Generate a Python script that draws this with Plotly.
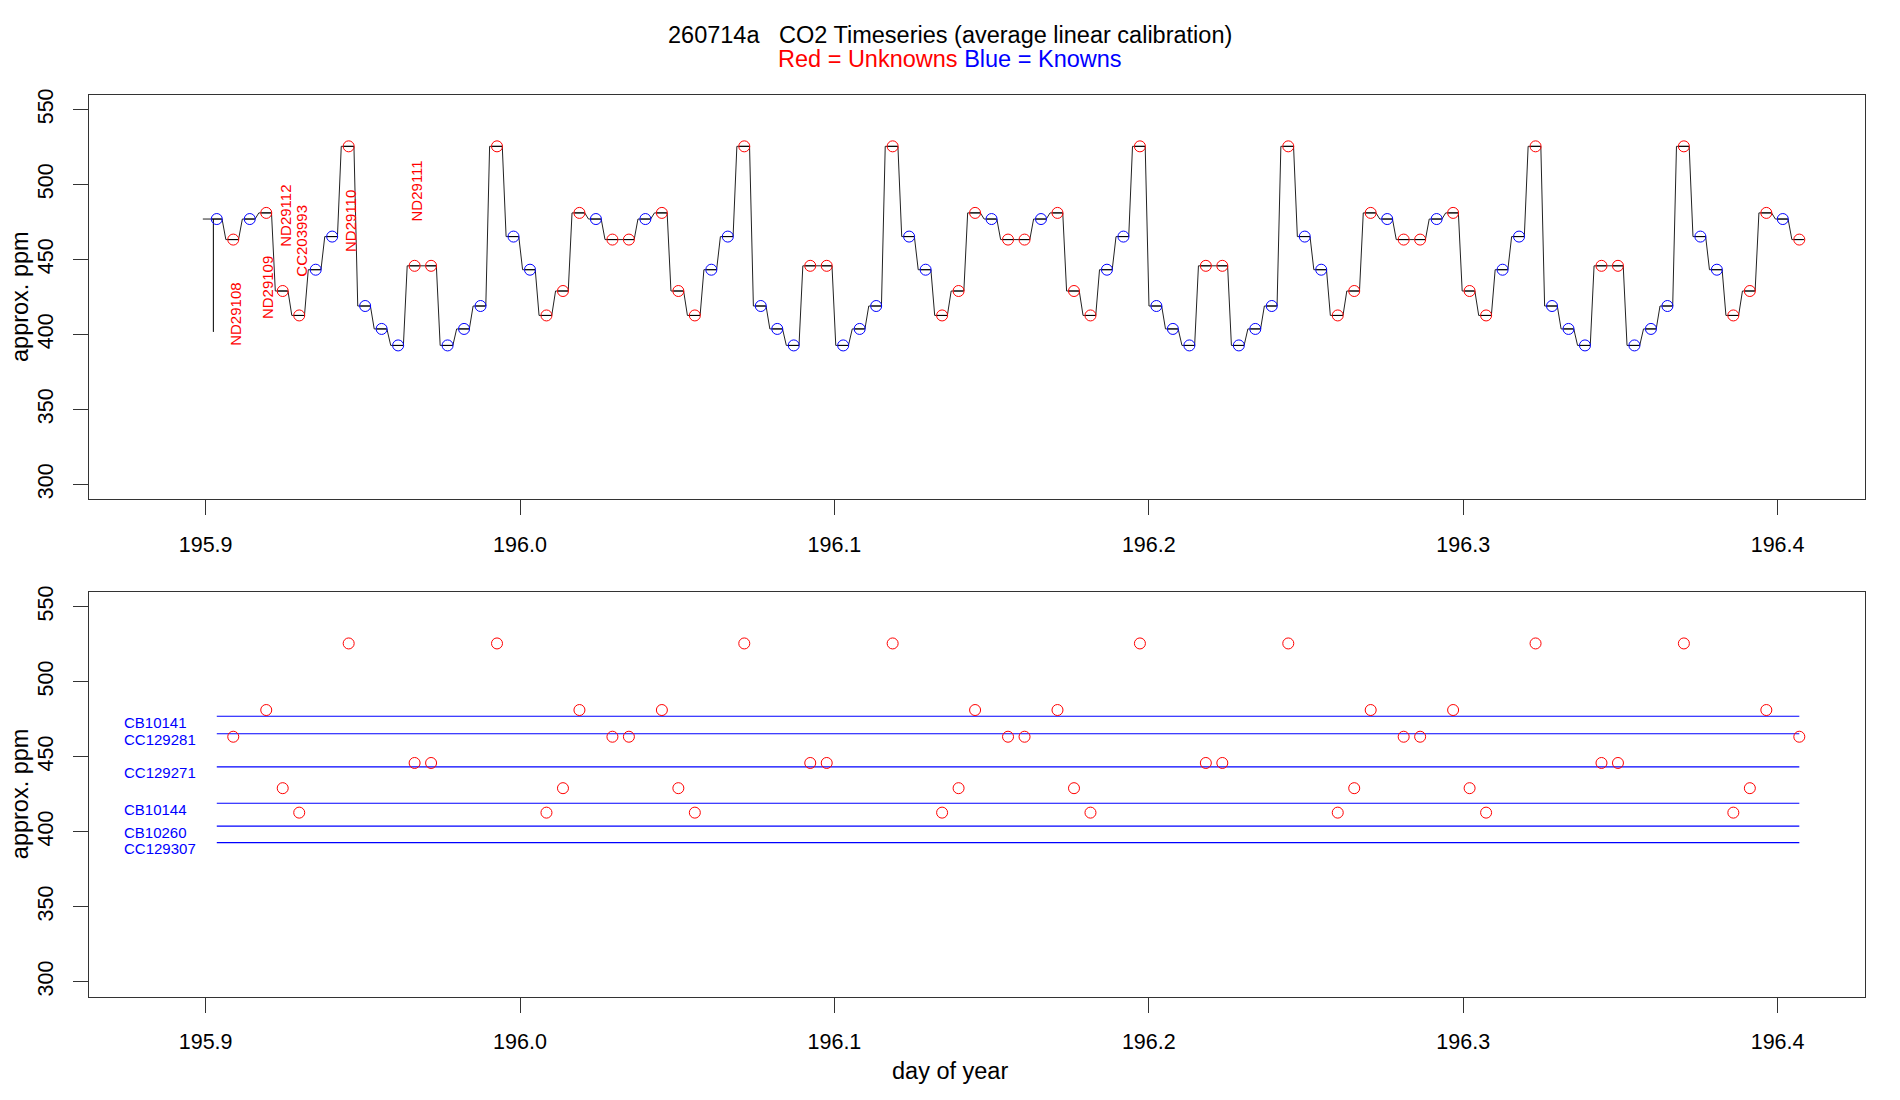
import plotly.graph_objects as go

# ---------------- data ----------------
known_names = ["CB10141", "CC129281", "CC129271", "CB10144", "CB10260", "CC129307"]
known_values = [477.0, 465.3, 443.2, 419.0, 403.7, 392.7]

unknown_names = ["ND29108", "ND29109", "ND29112", "CC203993", "ND29110", "ND29111"]
unknown_values = [463.3, 481.1, 429.0, 412.7, 525.5, 445.8]

sample_times = [
    195.90355, 195.90879, 195.91404, 195.91928, 195.92452, 195.92977, 195.93501, 195.94025,
    195.94550, 195.95074, 195.95598, 195.96123, 195.96647, 195.97171, 195.97696, 195.98220,
    195.98744, 195.99268, 195.99793, 196.00317, 196.00841, 196.01366, 196.01890, 196.02414,
    196.02939, 196.03463, 196.03987, 196.04512, 196.05036, 196.05560, 196.06085, 196.06609,
    196.07133, 196.07658, 196.08182, 196.08706, 196.09231, 196.09755, 196.10279, 196.10803,
    196.11328, 196.11852, 196.12376, 196.12901, 196.13425, 196.13949, 196.14474, 196.14998,
    196.15522, 196.16047, 196.16571, 196.17095, 196.17620, 196.18144, 196.18668, 196.19193,
    196.19717, 196.20241, 196.20766, 196.21290, 196.21814, 196.22338, 196.22863, 196.23387,
    196.23911, 196.24436, 196.24960, 196.25484, 196.26009, 196.26533, 196.27057, 196.27582,
    196.28106, 196.28630, 196.29155, 196.29679, 196.30203, 196.30728, 196.31252, 196.31776,
    196.32301, 196.32825, 196.33349, 196.33873, 196.34398, 196.34922, 196.35446, 196.35971,
    196.36495, 196.37019, 196.37544, 196.38068, 196.38592, 196.39117, 196.39641, 196.40165,
    196.40690,
]

sample_order = [
    "CB10141", "ND29108",
    "CB10141", "ND29109", "ND29112", "CC203993", "CC129271", "CC129281", "ND29110", "CB10144",
    "CB10260", "CC129307", "ND29111", "ND29111", "CC129307", "CB10260", "CB10144", "ND29110",
    "CC129281", "CC129271", "CC203993", "ND29112", "ND29109", "CB10141", "ND29108", "ND29108",
    "CB10141", "ND29109", "ND29112", "CC203993", "CC129271", "CC129281", "ND29110", "CB10144",
    "CB10260", "CC129307", "ND29111", "ND29111", "CC129307", "CB10260", "CB10144", "ND29110",
    "CC129281", "CC129271", "CC203993", "ND29112", "ND29109", "CB10141", "ND29108", "ND29108",
    "CB10141", "ND29109", "ND29112", "CC203993", "CC129271", "CC129281", "ND29110", "CB10144",
    "CB10260", "CC129307", "ND29111", "ND29111", "CC129307", "CB10260", "CB10144", "ND29110",
    "CC129281", "CC129271", "CC203993", "ND29112", "ND29109", "CB10141", "ND29108", "ND29108",
    "CB10141", "ND29109", "ND29112", "CC203993", "CC129271", "CC129281", "ND29110", "CB10144",
    "CB10260", "CC129307", "ND29111", "ND29111", "CC129307", "CB10260", "CB10144", "ND29110",
    "CC129281", "CC129271", "CC203993", "ND29112", "ND29109", "CB10141", "ND29108",
]

# raw series start and initial glitch
line_start_time = 195.89911
spike_time = 195.90248
spike_value = 401.8

x_ticks = [195.9, 196.0, 196.1, 196.2, 196.3, 196.4]
y_ticks = [300, 350, 400, 450, 500, 550]

# ---------------- derived ----------------
value_of = dict(zip(known_names, known_values))
value_of.update(zip(unknown_names, unknown_values))
vals = [value_of[n] for n in sample_order]
is_known = [n in known_names for n in sample_order]
n = len(sample_times)
dt = sample_times[1] - sample_times[0]

# step-like timeseries line
lx = [line_start_time, spike_time, spike_time, spike_time]
ly = [vals[0], vals[0], spike_value, vals[0]]
for i, (t, v) in enumerate(zip(sample_times, vals)):
    if i > 0:
        lx.append(t - 0.45 * dt)
        ly.append(v)
    lx.append(t + (0.32 if i < n - 1 else 0.2) * dt)
    ly.append(v)

# mean bars through each marker
bx, by = [], []
for t, v in zip(sample_times, vals):
    bx += [t - 0.3 * dt, t + 0.3 * dt, None]
    by += [v, v, None]

kx = [t for t, k in zip(sample_times, is_known) if k]
ky = [v for v, k in zip(vals, is_known) if k]
ux = [t for t, k in zip(sample_times, is_known) if not k]
uy = [v for v, k in zip(vals, is_known) if not k]

FONT = "Liberation Sans, Arial, Helvetica, sans-serif"
RED = "#FF0000"
BLUE = "#0000FF"

fig = go.Figure()

fig.add_trace(go.Scatter(x=lx, y=ly, mode="lines", line=dict(color="#222222", width=1),
                         xaxis="x", yaxis="y", hoverinfo="skip", showlegend=False))
fig.add_trace(go.Scatter(x=bx, y=by, mode="lines", line=dict(color="#000000", width=1),
                         xaxis="x", yaxis="y", hoverinfo="skip", showlegend=False))
fig.add_trace(go.Scatter(x=kx, y=ky, mode="markers",
                         marker=dict(symbol="circle-open", size=11, color=BLUE, line=dict(width=1, color=BLUE)),
                         xaxis="x", yaxis="y", showlegend=False))
fig.add_trace(go.Scatter(x=ux, y=uy, mode="markers",
                         marker=dict(symbol="circle-open", size=11, color=RED, line=dict(width=1, color=RED)),
                         xaxis="x", yaxis="y", showlegend=False))

# bottom panel: known reference lines
hx, hy = [], []
for v in known_values:
    hx += [sample_times[0], sample_times[-1], None]
    hy += [v, v, None]
fig.add_trace(go.Scatter(x=hx, y=hy, mode="lines", line=dict(color=BLUE, width=1.1),
                         xaxis="x2", yaxis="y2", hoverinfo="skip", showlegend=False))
fig.add_trace(go.Scatter(x=ux, y=uy, mode="markers",
                         marker=dict(symbol="circle-open", size=11, color=RED, line=dict(width=1, color=RED)),
                         xaxis="x2", yaxis="y2", showlegend=False))

annotations = []
# unknown labels in top panel at first occurrence
for name, v in zip(unknown_names, unknown_values):
    t_first = sample_times[sample_order.index(name)]
    ylab = v - 50 if v > 455 else v + 50
    annotations.append(dict(x=t_first, y=ylab, xref="x", yref="y", text=name, textangle=-90,
                            showarrow=False, xshift=2, font=dict(family=FONT, size=15, color=RED)))
# known labels in bottom panel
for name, v in zip(known_names, known_values):
    annotations.append(dict(x=195.8734, y=v, xref="x2", yref="y2", text=name, xanchor="left",
                            showarrow=False, yshift=-6, font=dict(family=FONT, size=15, color=BLUE)))

H = 1100.0
annotations += [
    dict(x=0.5, y=1 - 29 / H, xref="paper", yref="paper", xanchor="center", yanchor="middle",
         showarrow=False,
         text="260714a\u00a0\u00a0\u00a0CO2 Timeseries (average linear calibration)",
         font=dict(family=FONT, size=23.5, color="black")),
    dict(x=0.5, y=1 - 53 / H, xref="paper", yref="paper", xanchor="center", yanchor="middle",
         showarrow=False,
         text='<span style="color:#FF0000">Red = Unknowns</span> <span style="color:#0000FF">Blue = Knowns</span>',
         font=dict(family=FONT, size=23.5)),
    dict(x=20 / 1900, y=1 - 292.6 / H, xref="paper", yref="paper", xanchor="center", yanchor="middle",
         textangle=-90, showarrow=False,
         text="approx. ppm", font=dict(family=FONT, size=23.5, color="black")),
    dict(x=20 / 1900, y=1 - 792.5 / H, xref="paper", yref="paper", xanchor="center", yanchor="middle",
         textangle=-90, showarrow=False,
         text="approx. ppm", font=dict(family=FONT, size=23.5, color="black")),
    dict(x=0.5, y=1 - 1071 / H, xref="paper", yref="paper", xanchor="center", yanchor="middle",
         showarrow=False,
         text="day of year", font=dict(family=FONT, size=23.5, color="black")),
]

xr = [195.8630, 196.4277]
yr = [290, 560]
xdom = [89.3 / 1900, 1864.7 / 1900]

common_x = dict(range=xr, domain=xdom, tickmode="array", tickvals=x_ticks,
                ticktext=[f"{v:.1f}" for v in x_ticks], ticks="outside", ticklen=15,
                tickcolor="#333333", showline=True, linecolor="#333333", linewidth=1, mirror=True,
                showgrid=False, zeroline=False, tickfont=dict(family=FONT, size=21.5, color="black"),
                ticklabelstandoff=11)
common_y = dict(range=yr, tickmode="array", tickvals=y_ticks, ticks="outside", ticklen=15,
                tickcolor="#333333", showline=True, linecolor="#333333", linewidth=1, mirror=True,
                showgrid=False, zeroline=False, tickangle=-90,
                tickfont=dict(family=FONT, size=21.5, color="black"), ticklabelstandoff=12)

fig.update_layout(
    width=1900, height=1100, autosize=False,
    margin=dict(l=0, r=0, t=0, b=0),
    paper_bgcolor="white", plot_bgcolor="white",
    showlegend=False,
    xaxis=dict(anchor="y", **common_x),
    yaxis=dict(anchor="x", domain=[1 - 496.1 / H, 1 - 89.1 / H], **common_y),
    xaxis2=dict(anchor="y2", **common_x),
    yaxis2=dict(anchor="x2", domain=[1 - 996.1 / H, 1 - 588.9 / H], **common_y),
    annotations=annotations,
)

fig.write_html("out.html")
